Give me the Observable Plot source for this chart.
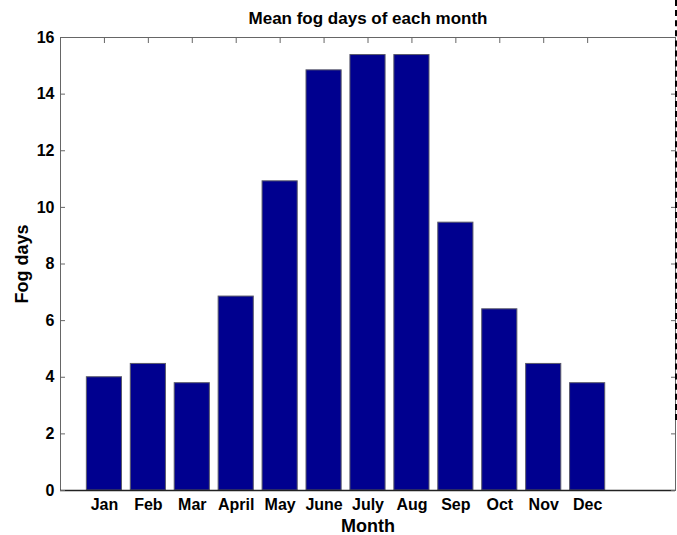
<!DOCTYPE html>
<html>
<head>
<meta charset="utf-8">
<script src="https://cdn.jsdelivr.net/npm/d3@7"></script>
<script src="https://cdn.jsdelivr.net/npm/@observablehq/plot@0.6"></script>
<style>
  html, body { margin: 0; padding: 0; background: #fff; }
  #wrap { position: relative; width: 677px; height: 535px; }
  #edge { position: absolute; left: 675px; top: 0; width: 0; height: 420px; border-left: 2px dashed #000; }
</style>
</head>
<body>
<div id="wrap"><div id="edge"></div></div>
<script>
const months = ["Jan","Feb","Mar","April","May","June","July","Aug","Sep","Oct","Nov","Dec"];
const fogDays = [4.0, 4.47, 3.79, 6.85, 10.92, 14.84, 15.38, 15.38, 9.46, 6.40, 4.47, 3.79];
const yTicks = [0, 2, 4, 6, 8, 10, 12, 14, 16];
const titleText = "Mean fog days of each month";
const xLabel = "Month";
const yLabel = "Fog days";

const data = months.map((m, i) => ({month: m, pos: i + 1, value: fogDays[i]}));
const positions = data.map(d => d.pos);
const font = "'Liberation Sans', Arial, sans-serif";

const chart = Plot.plot({
  width: 677,
  height: 535,
  marginTop: 37,
  marginBottom: 45,
  marginLeft: 60,
  marginRight: 2,
  style: {fontFamily: font, fontWeight: "bold", fontSize: "16px", color: "#000", background: "#fff"},
  x: {domain: [0, 14]},
  y: {domain: [0, 16]},
  marks: [
    Plot.rectY(data, {
      x1: d => d.pos - 0.4,
      x2: d => d.pos + 0.4,
      y1: 0,
      y2: "value",
      fill: "#00008F",
      stroke: "#5a5a6a",
      strokeWidth: 1
    }),
    Plot.frame({stroke: "#666", strokeWidth: 1}),
    Plot.ruleY([0], {stroke: "#222", strokeWidth: 1.5}),
    // inward tick marks
    Plot.axisX({anchor: "top", ticks: positions, tickSize: -5, tickFormat: () => "", label: null, stroke: "#666"}),
    Plot.axisY({anchor: "left", ticks: yTicks, tickSize: -5, tickFormat: () => "", label: null, stroke: "#666"}),
    Plot.axisY({anchor: "right", ticks: yTicks, tickSize: -5, tickFormat: () => "", label: null, stroke: "#666"}),
    // tick labels
    Plot.axisX({anchor: "bottom", ticks: positions, tickSize: 0, tickPadding: 8, tickFormat: p => months[p - 1], label: null, fontSize: 16, fontWeight: "bold", fill: "#000"}),
    Plot.axisY({anchor: "left", ticks: yTicks, tickSize: 0, tickPadding: 6, tickFormat: d => String(d), label: null, fontSize: 16, fontWeight: "bold", fill: "#000"}),
    // titles
    Plot.text([titleText], {frameAnchor: "top", dy: -19, lineAnchor: "middle", text: d => d, fontSize: 17, fontWeight: "bold", fill: "#000"}),
    Plot.text([xLabel], {frameAnchor: "bottom", dy: 36, lineAnchor: "middle", text: d => d, fontSize: 18, fontWeight: "bold", fill: "#000"}),
    Plot.text([yLabel], {frameAnchor: "left", dx: -38, rotate: -90, textAnchor: "middle", lineAnchor: "middle", text: d => d, fontSize: 18, fontWeight: "bold", fill: "#000"})
  ]
});
document.getElementById("wrap").prepend(chart);
</script>
</body>
</html>
